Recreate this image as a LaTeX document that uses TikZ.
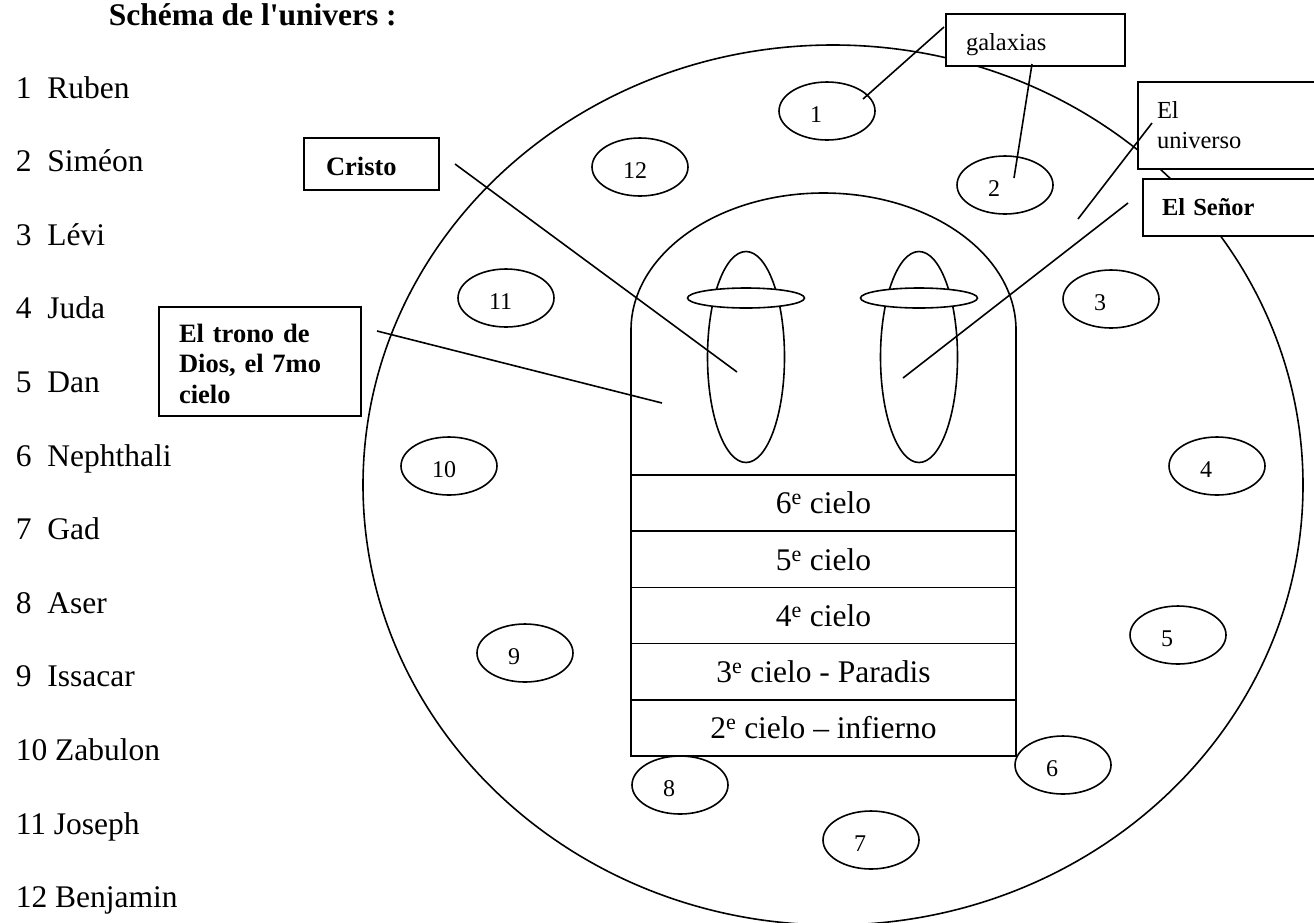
\documentclass[tikz,border=0pt]{standalone}
\usepackage{fontspec}
\setmainfont{Liberation Serif}
\usetikzlibrary{positioning,shapes.geometric,calc}

\newcommand{\tribefont}{\fontsize{31.5}{36}\selectfont}
\newcommand{\galfont}{\fontsize{24}{28}\selectfont}
\newcommand{\capfont}{\fontsize{24.5}{30}\selectfont}
\newcommand{\boldcapfont}{\fontsize{26.5}{30.5}\selectfont\bfseries}

\begin{document}
\begin{tikzpicture}[x=1pt,y=-1pt,line width=1.6pt,on grid,
    galaxy/.style={draw, fill=white, ellipse, minimum width=96pt, minimum height=58pt, inner sep=0pt,
      label={[font=\galfont, inner sep=0pt, shift={(0pt,-3.75pt)}]center:\makebox[34pt][l]{#1}}}]
  \tikzstyle{tribe}=[anchor=base west, inner sep=0pt, font=\tribefont]
  \tikzstyle{sky}=[draw, minimum width=385pt, minimum height=56.2pt, inner sep=0pt, outer sep=0pt, font=\tribefont]
  \tikzstyle{figure}=[draw, ellipse, minimum width=77pt, minimum height=211pt, inner sep=0pt]
  \tikzstyle{halo}=[draw, fill=white, ellipse, minimum width=117pt, minimum height=20pt, inner sep=0pt]
  \tikzstyle{callout}=[draw, fill=white, anchor=base west, align=left, inner ysep=0pt, outer sep=0pt]

  \useasboundingbox (0,0) rectangle (1314,922);
  \clip (0,0) rectangle (1314,922);

  \node[tribe, font=\tribefont\bfseries] (title) at (108,25) {Schéma de l\textquotesingle univers :};
  \foreach \n/\tname in {1/Ruben,2/Siméon,3/Lévi,4/Juda,5/Dan,6/Nephthali,7/Gad,8/Aser,9/Issacar,10/Zabulon,11/Joseph,12/Benjamin}
    \node[tribe] (tribe\n) at (15,{98+(\n-1)*73.6}) {\n\ifnum\n<10\ \fi\ \tname};

  \node[draw, ellipse, minimum width=940pt, minimum height=880pt, inner sep=0pt] (universe) at (833,485) {};

  \node[sky]                       (c6) at (823.5,503.1) {6\textsuperscript{e} cielo};
  \node[sky, below=56.2pt of c6]   (c5) {5\textsuperscript{e} cielo};
  \node[sky, below=56.2pt of c5]   (c4) {4\textsuperscript{e} cielo};
  \node[sky, below=56.2pt of c4]   (c3) {3\textsuperscript{e} cielo - Paradis};
  \node[sky, below=56.2pt of c3]   (c2) {2\textsuperscript{e} cielo -- infierno};
  \draw (c6.north west) -- ++(0,-145) arc[start angle=180, end angle=0, x radius=192.5pt, y radius=137pt] -- (c6.north east);

  \node[figure] (figL)  at (746,357) {};
  \node[figure] (figR)  at (919,357) {};
  \node[halo]   (haloL) at (746,298) {};
  \node[halo]   (haloR) at (919,298) {};

  \node[galaxy=1]  (g1)  at (827,111) {};
  \node[galaxy=2]  (g2)  at (1005,185) {};
  \node[galaxy=3]  (g3)  at (1111,299) {};
  \node[galaxy=4]  (g4)  at (1217,466) {};
  \node[galaxy=5]  (g5)  at (1178,635) {};
  \node[galaxy=6]  (g6)  at (1063,765) {};
  \node[galaxy=7]  (g7)  at (871,840) {};
  \node[galaxy=8]  (g8)  at (680,785) {};
  \node[galaxy=9]  (g9)  at (525,653) {};
  \node[galaxy=10] (g10) at (449,466) {};
  \node[galaxy=11] (g11) at (506,298) {};
  \node[galaxy=12] (g12) at (640,167) {};

  \node[callout, font=\capfont, inner xsep=20pt, text width=139pt, text height=36pt, text depth=16pt]          (galaxias) at (946,50)  {galaxias};
  \node[callout, font=\capfont, inner xsep=19pt, text width=164pt, text height=36pt, text depth=51pt]          (universo) at (1138,118) {El\\universo};
  \node[callout, font=\capfont\bfseries, inner xsep=19pt, text width=159pt, text height=36pt, text depth=21pt] (senor)    at (1143,215) {El Señor};
  \node[callout, font=\boldcapfont, inner xsep=22pt, text width=91pt, text height=37pt, text depth=15pt]       (cristo)   at (304,175) {Cristo};
  \node[callout, font=\boldcapfont, inner xsep=20pt, text width=162pt, text height=35pt, text depth=74pt]      (trono)    at (159,342) {El trono de\\Dios, el 7mo\\cielo};

  \coordinate (christ)  at ($(figL.center)+(-9,15)$);
  \coordinate (lord)    at ($(figR.center)+(-16,21)$);
  \coordinate (throne)  at (662,403);
  \coordinate (cosmos)  at (1078,219);
  \coordinate (gal1tip) at ($(g1)+(36,-12)$);
  \coordinate (gal2tip) at ($(g2)+(9,-7)$);

  \path
  ([xshift=16pt]cristo.east)                  edge (christ)
  ([shift={(16pt,-24pt)}]trono.north east)    edge (throne)
  ([shift={(-15pt,4.5pt)}]senor.west)         edge (lord)
  ([shift={(14pt,-41pt)}]universo.north west) edge (cosmos)
  ([shift={(-2pt,-13pt)}]galaxias.north west) edge (gal1tip)
  ([shift={(86pt,2pt)}]galaxias.south west)   edge (gal2tip)
  ;
\end{tikzpicture}
\end{document}
